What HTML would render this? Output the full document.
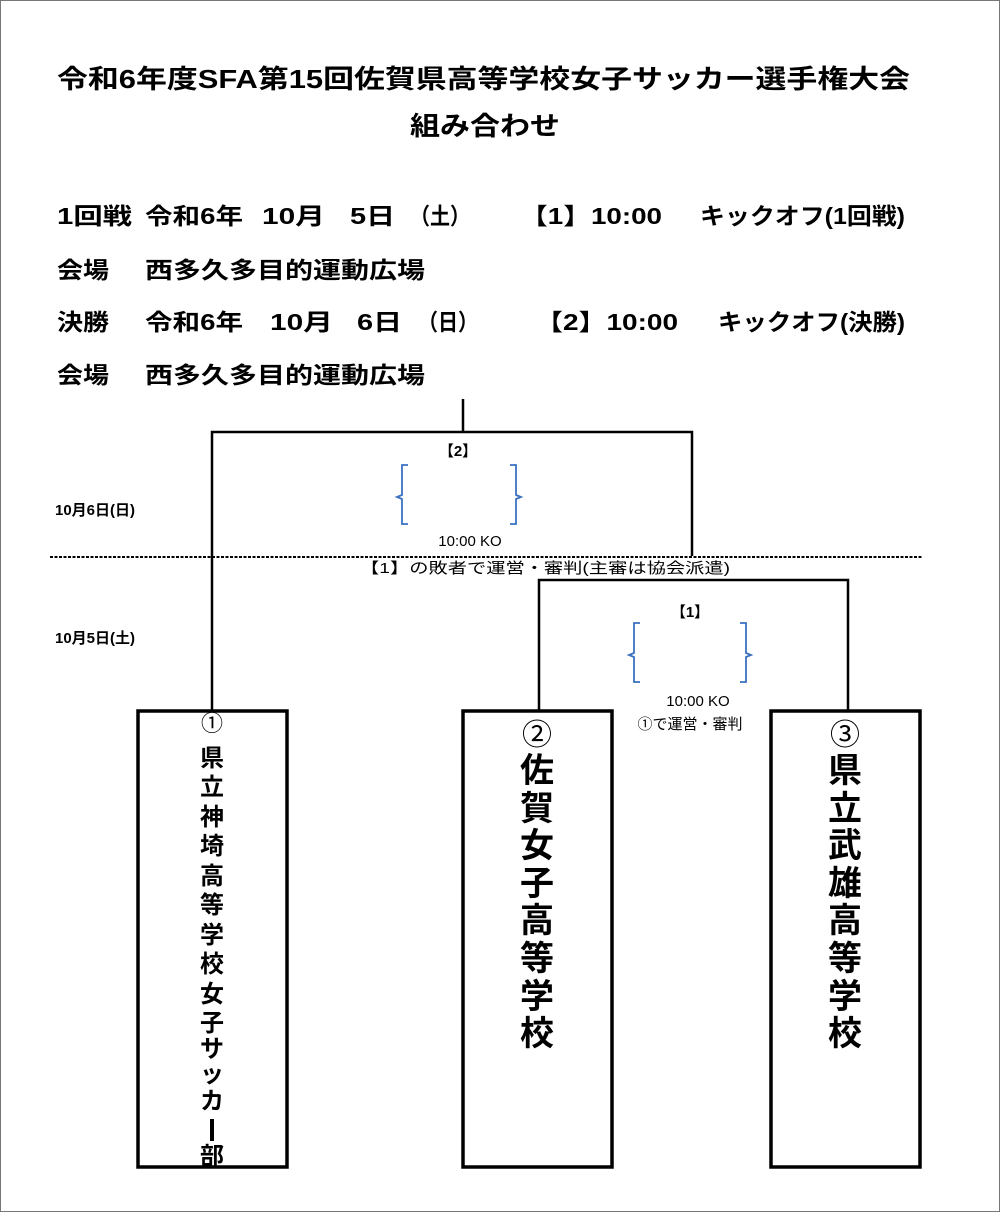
<!DOCTYPE html>
<html><head><meta charset="utf-8"><style>
html,body{margin:0;padding:0;background:#fff}
svg{display:block}
text{font-family:"Liberation Sans","Noto Sans CJK JP",sans-serif;fill:#000}
.b{font-weight:bold}
</style></head><body>
<svg width="1000" height="1212" viewBox="0 0 1000 1212" xmlns="http://www.w3.org/2000/svg">
<rect x="0.5" y="0.5" width="999" height="1211" fill="#fff" stroke="#777" stroke-width="1"/>
<text class="b" x="57" y="88" font-size="26" textLength="853" lengthAdjust="spacingAndGlyphs">令和6年度SFA第15回佐賀県高等学校女子サッカー選手権大会</text>
<text class="b" x="410" y="135" font-size="26" textLength="150" lengthAdjust="spacingAndGlyphs">組み合わせ</text>

<g class="b" font-size="23">
<text x="57" y="224" textLength="75" lengthAdjust="spacingAndGlyphs">1回戦</text>
<text x="145" y="224" textLength="98" lengthAdjust="spacingAndGlyphs">令和6年</text>
<text x="262" y="224" textLength="63" lengthAdjust="spacingAndGlyphs">10月</text>
<text x="350" y="224" textLength="45" lengthAdjust="spacingAndGlyphs">5日</text>
<text x="410" y="224" textLength="60" lengthAdjust="spacingAndGlyphs">（土）</text>
<text x="520" y="224" textLength="142" lengthAdjust="spacingAndGlyphs">【1】10:00</text>
<text x="700" y="224" textLength="205" lengthAdjust="spacingAndGlyphs">キックオフ(1回戦)</text>

<text x="57" y="278" textLength="52" lengthAdjust="spacingAndGlyphs">会場</text>
<text x="145" y="278" textLength="280" lengthAdjust="spacingAndGlyphs">西多久多目的運動広場</text>

<text x="57" y="330" textLength="52" lengthAdjust="spacingAndGlyphs">決勝</text>
<text x="145" y="330" textLength="98" lengthAdjust="spacingAndGlyphs">令和6年</text>
<text x="270" y="330" textLength="63" lengthAdjust="spacingAndGlyphs">10月</text>
<text x="357" y="330" textLength="45" lengthAdjust="spacingAndGlyphs">6日</text>
<text x="418" y="330" textLength="60" lengthAdjust="spacingAndGlyphs">（日）</text>
<text x="535" y="330" textLength="143" lengthAdjust="spacingAndGlyphs">【2】10:00</text>
<text x="718" y="330" textLength="187" lengthAdjust="spacingAndGlyphs">キックオフ(決勝)</text>

<text x="57" y="383" textLength="52" lengthAdjust="spacingAndGlyphs">会場</text>
<text x="145" y="383" textLength="280" lengthAdjust="spacingAndGlyphs">西多久多目的運動広場</text>
</g>

<g stroke="#000" stroke-width="2.5" fill="none">
<line x1="463" y1="399" x2="463" y2="432"/>
<polyline points="212,710 212,432 692,432 692,556"/>
<polyline points="539,710 539,580 848,580 848,710"/>
</g>
<line x1="50" y1="557" x2="922" y2="557" stroke="#000" stroke-width="2" stroke-dasharray="3,1.5"/>

<text class="b" x="55" y="515" font-size="15">10月6日(日)</text>
<text class="b" x="55" y="643" font-size="15">10月5日(土)</text>

<text class="b" x="458" y="456" font-size="15" text-anchor="middle">【2】</text>
<text x="470" y="546" font-size="15" text-anchor="middle">10:00  KO</text>
<text x="545" y="573" font-size="15" text-anchor="middle" textLength="370" lengthAdjust="spacingAndGlyphs">【1】の敗者で運営・審判(主審は協会派遣)</text>

<text class="b" x="690" y="617" font-size="15" text-anchor="middle">【1】</text>
<text x="698" y="706" font-size="15" text-anchor="middle">10:00  KO</text>
<text x="690" y="729" font-size="15" text-anchor="middle">①で運営・審判</text>

<g stroke="#3a72c0" stroke-width="1.8" fill="none">
<path d="M408,465 h-6 v30 l-5,2 l5,2 v25 h6"/>
<path d="M510,465 h6 v30 l5,2 l-5,2 v25 h-6"/>
<path d="M640,623 h-6 v30 l-5,2 l5,2 v25 h6"/>
<path d="M740,623 h6 v30 l5,2 l-5,2 v25 h-6"/>
</g>

<g stroke="#000" stroke-width="3.5" fill="#fff">
<rect x="138" y="711" width="149" height="456"/>
<rect x="463" y="711" width="149" height="456"/>
<rect x="771" y="711" width="149" height="456"/>
</g>

<g class="b" font-size="24" text-anchor="middle">
<text x="212" y="731" font-weight="normal" font-size="22">①</text>
<text x="212" y="766">県</text>
<text x="212" y="795">立</text>
<text x="212" y="825">神</text>
<text x="212" y="854">埼</text>
<text x="212" y="884">高</text>
<text x="212" y="913">等</text>
<text x="212" y="943">学</text>
<text x="212" y="972">校</text>
<text x="212" y="1002">女</text>
<text x="212" y="1031">子</text>
<text x="212" y="1057">サ</text>
<text x="212" y="1082">ッ</text>
<text x="212" y="1109">カ</text>
<text x="212" y="1164">部</text>
</g>
<rect x="210" y="1119" width="4" height="22" fill="#000"/>

<g class="b" font-size="34" text-anchor="middle">
<text x="537" y="745" font-weight="normal" font-size="30">②</text>
<text x="537" y="782">佐</text>
<text x="537" y="820">賀</text>
<text x="537" y="857">女</text>
<text x="537" y="895">子</text>
<text x="537" y="932">高</text>
<text x="537" y="970">等</text>
<text x="537" y="1008">学</text>
<text x="537" y="1045">校</text>
<text x="845" y="745" font-weight="normal" font-size="30">③</text>
<text x="845" y="782">県</text>
<text x="845" y="820">立</text>
<text x="845" y="857">武</text>
<text x="845" y="895">雄</text>
<text x="845" y="932">高</text>
<text x="845" y="970">等</text>
<text x="845" y="1008">学</text>
<text x="845" y="1045">校</text>
</g>
</svg>
</body></html>
